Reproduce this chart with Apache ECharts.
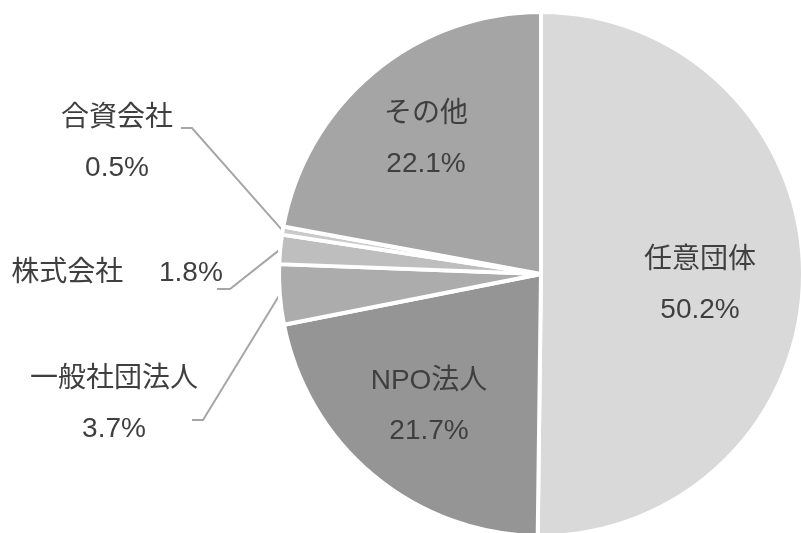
<!DOCTYPE html>
<html><head><meta charset="utf-8">
<script src="https://cdn.jsdelivr.net/npm/echarts@6/dist/echarts.min.js"></script>
<style>html,body{margin:0;padding:0;background:#fff}#c{width:801px;height:533px}</style>
</head><body><div id="c"></div>
<script>
const categories = ['任意団体', 'NPO法人', '一般社団法人', '株式会社', '合資会社', 'その他'];
const values = [50.2, 21.7, 3.7, 1.8, 0.5, 22.1];
const colors = ['#d9d9d9', '#959595', '#acacac', '#bebebe', '#cacaca', '#a5a5a5'];
const inside = [true, true, false, false, false, true];

// label placement (text annotations, not data marks)
const labelPos = [
  {x: 700, y: 285},
  {x: 429, y: 406},
  {x: 114, y: 404, line: [[203, 420], [192, 420]]},
  {x: 117, y: 273, line: [[230, 289], [217, 289]]},
  {x: 117, y: 143, line: [[192, 128], [181, 128]]},
  {x: 426, y: 139}
];

const chart = echarts.init(document.getElementById('c'));
const font = '"Liberation Sans", "Noto Sans CJK JP", sans-serif';
chart.setOption({
  animation: false,
  series: [{
    type: 'pie',
    center: [541, 274],
    radius: 262,
    startAngle: 90,
    clockwise: true,
    avoidLabelOverlap: false,
    itemStyle: {borderColor: '#ffffff', borderWidth: 4},
    label: {
      color: '#3f3f3f', fontSize: 28, fontFamily: font, lineHeight: 50,
      formatter: p => p.name === '株式会社'
        ? p.name + '　 ' + p.value.toFixed(1) + '%'
        : p.name + '\n' + p.value.toFixed(1) + '%'
    },
    labelLine: {lineStyle: {color: '#a6a6a6', width: 2}},
    emphasis: {disabled: true},
    data: categories.map((c, i) => ({
      name: c, value: values[i],
      itemStyle: {color: colors[i]},
      label: {position: inside[i] ? 'inside' : 'outside'},
      labelLine: {show: !inside[i]}
    })),
    labelLayout: function (params) {
      const lp = labelPos[params.dataIndex];
      const out = {x: lp.x, y: lp.y, align: 'center', verticalAlign: 'middle'};
      if (lp.line && params.labelLinePoints) {
        out.labelLinePoints = [params.labelLinePoints[0], lp.line[0], lp.line[1]];
      }
      return out;
    }
  }]
});
</script></body></html>
